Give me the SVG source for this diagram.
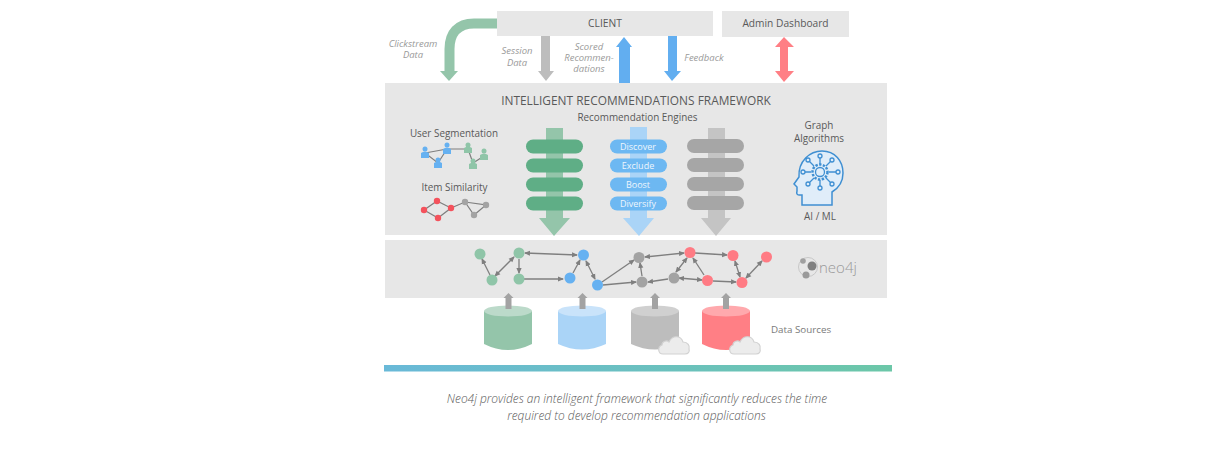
<svg xmlns="http://www.w3.org/2000/svg" width="1208" height="456" viewBox="0 0 1208 456">
<style>
text{font-family:"Open Sans","Noto Sans","Liberation Sans",sans-serif;fill:#595959;text-anchor:middle}
.box{fill:#e7e7e7}
.cap{font-size:9.9px;fill:#595959}
.it{font-size:9.5px;font-style:italic;fill:#9a9a9a}
.wh{font-size:9px;fill:#eef6fd}
.g{fill:#5fae86}.bl{fill:#6db8f2}.gr{fill:#a6a6a6}
.edge{stroke:#7f7f7f;stroke-width:1.3;fill:none;marker-end:url(#ah)}
.both{marker-start:url(#ahs)}
.ngreen{fill:#8fc5a8}.nblue{fill:#66b1f1}.ngray{fill:#a3a3a3}.nred{fill:#ff7b84}
.ic{fill:none;stroke:#3f8fd2;stroke-width:1.3}
.up{fill:#a3a3a3}
.cl{fill:#ececec;stroke:#d2d2d2;stroke-width:1.2}
</style>
<defs>
<marker id="ah" markerWidth="6" markerHeight="6" refX="5" refY="3" orient="auto" markerUnits="userSpaceOnUse"><path d="M0 .4L6 3 0 5.6z" fill="#7f7f7f"/></marker>
<marker id="ahs" markerWidth="6" markerHeight="6" refX="1" refY="3" orient="auto" markerUnits="userSpaceOnUse"><path d="M6 .4L0 3 6 5.6z" fill="#7f7f7f"/></marker>
<linearGradient id="bar" x1="0" x2="1" y1="0" y2="0"><stop offset="0" stop-color="#69b9d8"/><stop offset="1" stop-color="#6cc7a8"/></linearGradient>
<symbol id="cloud" overflow="visible"><path class="cl" d="M5 19C0 19-1 12 4 10C4 6 9 5 11 7C14 0 23 0 25 7C30 7 32 11 31 14C32 17 30 19 27 19Z"/></symbol>
</defs>

<g id="connectors">
<path d="M497 23.500H474C458 23.500 449.500 33 449.500 49V72" fill="none" stroke="#94c5aa" stroke-width="10"/>
<path d="M440 71H458L449 81Z" fill="#94c5aa"/>
<path d="M541 35H550V71H554L546 81 538 71H541Z" fill="#bdbdbd"/>
<path d="M624 37L632 47H630V83H619V47H616Z" fill="#62aef0"/>
<path d="M668 35H677V71H681L672 81 664 71H668Z" fill="#62aef0"/>
<path d="M784 37L794 47H788V71H794L784 82 775 71H780V47H775Z" fill="#ff7f85"/>
</g>

<g id="client"><rect class="box" x="497" y="11" width="216" height="25"/><text x="605" y="27" font-size="10.3">CLIENT</text></g>
<g id="admin"><rect class="box" x="722" y="11" width="127" height="26"/><text x="785.500" y="27" font-size="10.200">Admin Dashboard</text></g>
<g id="labels">
<text class="it" x="413" y="47">Clickstream</text><text class="it" x="413" y="58">Data</text>
<text class="it" x="517" y="54">Session</text><text class="it" x="517" y="66">Data</text>
<text class="it" x="589" y="49.500">Scored</text><text class="it" x="589" y="60.500">Recommen-</text><text class="it" x="589" y="72">dations</text>
<text class="it" x="704" y="60.500">Feedback</text>
</g>

<g id="framework">
<rect class="box" x="385" y="83" width="502" height="152"/>
<text x="636" y="105" font-size="11.900">INTELLIGENT RECOMMENDATIONS FRAMEWORK</text>
<text x="637.500" y="121" font-size="9.900">Recommendation Engines</text>
<text class="cap" x="454" y="136.500">User Segmentation</text>
<text class="cap" x="454.500" y="191">Item Similarity</text>
<text class="cap" x="819" y="129">Graph</text>
<text class="cap" x="819" y="142">Algorithms</text>
<text class="cap" x="820" y="220">AI / ML</text>
</g>

<g id="user-seg">
<path d="M425 153L447 149 468 149M425 153L438 163 447 149M468 149L473 163 484 156" fill="none" stroke="#7f7f7f" stroke-width="1.200"/>
<g fill="#66b1f1"><circle cx="425" cy="149" r="2.500"/><path d="M421 158V153Q425 150 429 153V158Z"/><circle cx="447" cy="145" r="2.500"/><path d="M443 154V149Q447 146 451 149V154Z"/><circle cx="438" cy="160" r="2.500"/><path d="M434 168V163Q438 160 442 163V168Z"/></g>
<g fill="#8fc5a8"><circle cx="468" cy="145" r="2.500"/><path d="M464 153V148Q468 145 472 148V153Z"/><circle cx="473" cy="161" r="2.500"/><path d="M469 169V164Q473 161 477 164V169Z"/><circle cx="484" cy="151" r="2.500"/><path d="M480 160V155Q484 152 488 155V160Z"/></g>
</g>
<g id="item-sim">
<path d="M424 210L437 201 451 208 438 218ZM451 208L465 202 486 205 474 215 465 202" fill="none" stroke="#7f7f7f" stroke-width="1.200"/>
<g fill="#f4525c"><circle cx="424" cy="210" r="3.200"/><circle cx="437" cy="201" r="3.200"/><circle cx="451" cy="208" r="3.200"/><circle cx="438" cy="218" r="3.200"/></g>
<g fill="#a3a3a3"><circle cx="465" cy="202" r="3.200"/><circle cx="486" cy="205" r="3.200"/><circle cx="474" cy="215" r="3.200"/></g>
</g>

<g id="engine-green">
<path d="M546 128H563V218H570L554 236 539 218H546Z" fill="#94c5aa"/>
<g class="g"><rect x="526" y="139.500" width="57" height="14" rx="7"/><rect x="526" y="158.500" width="57" height="14" rx="7"/><rect x="526" y="177.500" width="57" height="14" rx="7"/><rect x="526" y="196.500" width="57" height="14" rx="7"/></g>
</g>
<g id="engine-blue">
<path d="M630 127H647V218H654L639 236 623 218H630Z" fill="#aad4f7"/>
<g class="bl"><rect x="610" y="139.500" width="57" height="14" rx="7"/><rect x="610" y="158.500" width="57" height="14" rx="7"/><rect x="610" y="177.500" width="57" height="14" rx="7"/><rect x="610" y="196.500" width="57" height="14" rx="7"/></g>
<text class="wh" x="638" y="150">Discover</text><text class="wh" x="638" y="169">Exclude</text><text class="wh" x="638" y="188">Boost</text><text class="wh" x="638" y="207">Diversify</text>
</g>
<g id="engine-gray">
<path d="M708 128H725V218H731L716 236 701 218H708Z" fill="#c4c4c4"/>
<g class="gr"><rect x="687" y="139" width="57" height="14" rx="7"/><rect x="687" y="158" width="57" height="14" rx="7"/><rect x="687" y="177" width="57" height="14" rx="7"/><rect x="687" y="196" width="57" height="14" rx="7"/></g>
</g>

<g id="ai-icon">
<path d="M802 205V195H799Q796 195 797 191V187L794 184 799 177C798 161 810 151 822 151C835 151 843 161 843 173C843 184 837 189 832 192V205Z" fill="#e0edf9" stroke="#3f8fd2" stroke-width="1.500"/>
<g class="ic"><path d="M820 158V164M820 180V186M805 172H811M829 172H836M809 161L814 166M831 161L826 166M809 183L814 178M831 183L826 178"/>
<circle cx="820" cy="156" r="2"/><circle cx="820" cy="188" r="2"/><circle cx="803" cy="172" r="2"/><circle cx="838" cy="172" r="2"/><circle cx="808" cy="160" r="2"/><circle cx="832" cy="160" r="2"/><circle cx="808" cy="184" r="2"/><circle cx="832" cy="184" r="2"/>
<circle cx="820" cy="172" r="4.500"/><circle cx="820" cy="172" r="7.500" stroke-width="2.500" stroke-dasharray="2.400 1.400"/></g>
</g>

<g id="neo4j-band">
<rect class="box" x="385" y="240" width="502" height="58"/>
<g id="graph-edges">
<path class="edge" d="M490 275L482 259"/>
<path class="edge both" d="M495 276L514 257"/>
<path class="edge" d="M519 259V273"/>
<path class="edge both" d="M525 253L577 255"/>
<path class="edge" d="M524 279L563 279"/>
<path class="edge" d="M573 273L580 260"/>
<path class="edge both" d="M586 261L595 279"/>
<path class="edge" d="M602 282L634 260"/>
<path class="edge" d="M603 285L636 282"/>
<path class="edge" d="M642 276L640 263"/>
<path class="edge both" d="M645 257L684 253"/>
<path class="edge" d="M668 279L648 282"/>
<path class="edge both" d="M676 272L687 258"/>
<path class="edge both" d="M679 278L702 280"/>
<path class="edge" d="M704 275L693 258"/>
<path class="edge" d="M695 253L727 255"/>
<path class="edge" d="M713 281L736 282"/>
<path class="edge both" d="M735 261L740 277"/>
<path class="edge both" d="M746 278L762 261"/>
</g>
<g id="graph-nodes">
<g class="ngreen"><circle cx="480" cy="254" r="5.500"/><circle cx="519" cy="253" r="5.500"/><circle cx="492" cy="280" r="5.500"/><circle cx="519" cy="279" r="5.500"/></g>
<g class="nblue"><circle cx="583.500" cy="255" r="5.500"/><circle cx="570" cy="278" r="5.500"/><circle cx="597.500" cy="285" r="5.500"/></g>
<g class="ngray"><circle cx="639" cy="257.500" r="5.500"/><circle cx="642" cy="282" r="5.500"/><circle cx="674" cy="278" r="5.500"/></g>
<g class="nred"><circle cx="690" cy="252.500" r="5.500"/><circle cx="733" cy="255.500" r="5.500"/><circle cx="707.500" cy="280.500" r="5.500"/><circle cx="742" cy="282.500" r="5.500"/><circle cx="766.500" cy="257" r="5.500"/></g>
</g>
<g id="neo4j-logo">
<circle cx="808" cy="267" r="9.500" fill="none" stroke="#c8c8c8"/>
<circle cx="803" cy="261" r="2.800" fill="#a0a0a0"/><circle cx="812" cy="266" r="4.500" fill="#808080"/><circle cx="806" cy="275" r="3.500" fill="#9a9a9a"/>
<text x="819" y="272.500" font-size="15" font-weight="300" style="fill:#999999;text-anchor:start">neo4j</text>
</g>
</g>

<g id="data-sources">
<g id="db-green"><path d="M484 311V344Q508 356 532 344V311Z" fill="#94c5aa"/><ellipse cx="508" cy="311" rx="24" ry="5.500" fill="#bcdaca"/><path class="up" d="M505.500 309V298H503.500L508.500 293 513.500 298H511.500V309Z"/></g>
<g id="db-blue"><path d="M558 311V344Q582 355 606 344V311Z" fill="#aad4f7"/><ellipse cx="582" cy="311" rx="24" ry="5.500" fill="#c9e3fa"/><path class="up" d="M579.500 309V298H577.500L582.500 293 587.500 298H585.500V309Z"/></g>
<g id="db-gray"><path d="M631 311V344Q655 355 679 344V311Z" fill="#bdbdbd"/><ellipse cx="655" cy="311" rx="24" ry="5.500" fill="#d0d0d0"/><path class="up" d="M652 309V298H650L655 293 660 298H658V309Z"/><use href="#cloud" x="658" y="335"/></g>
<g id="db-red"><path d="M702 311V344Q726 356 750 344V311Z" fill="#ff7f85"/><ellipse cx="726" cy="311" rx="24" ry="5.500" fill="#ffa9ad"/><path class="up" d="M723 309V298H721L726 293 731 298H729V309Z"/><use href="#cloud" x="729" y="335"/></g>
<text x="801" y="333" font-size="9.800" style="fill:#7a7a7a">Data Sources</text>
</g>

<rect id="bar-line" x="384" y="365" width="508" height="6.500" fill="url(#bar)"/>
<g id="caption">
<text x="637" y="403" font-size="11.950" font-style="italic" font-weight="300">Neo4j provides an intelligent framework that significantly reduces the time</text>
<text x="636.500" y="420" font-size="11.950" font-style="italic" font-weight="300">required to develop recommendation applications</text>
</g>
</svg>
